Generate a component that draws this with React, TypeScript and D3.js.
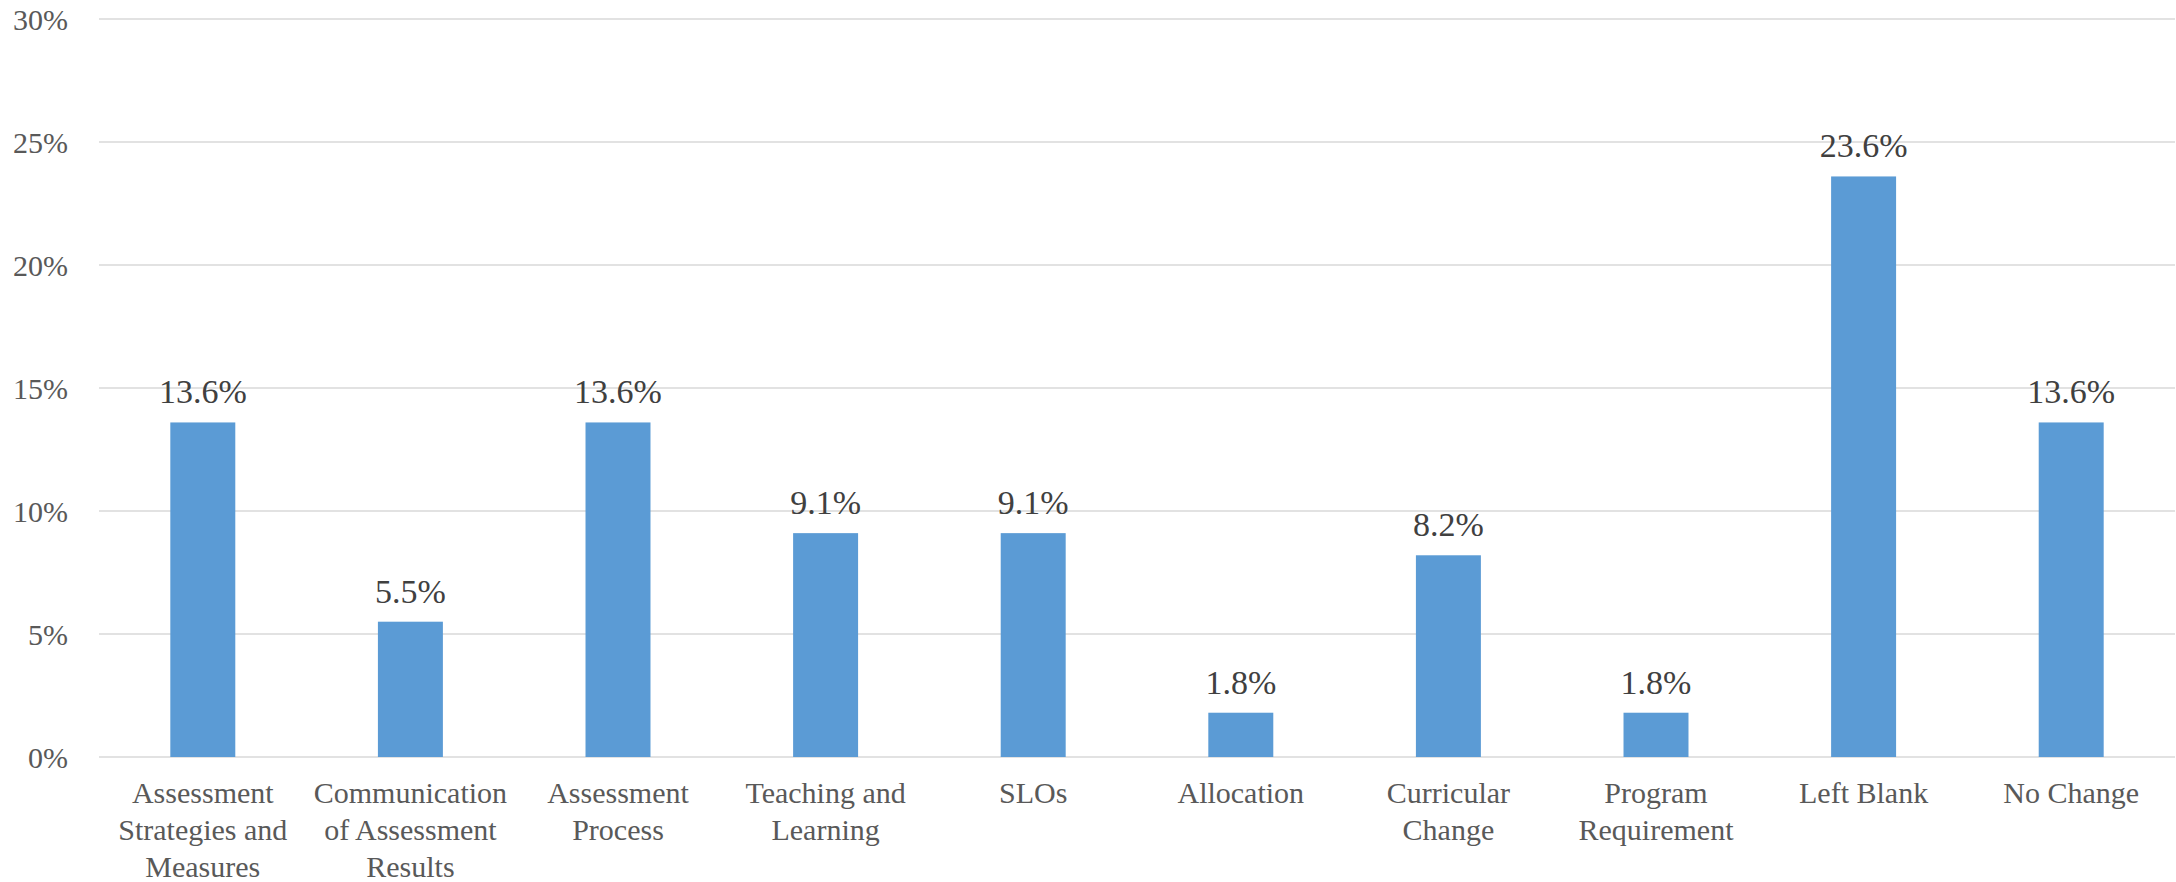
import React, { useEffect, useRef } from "react";
import * as d3 from "d3";

const categories = [
  "Assessment Strategies and Measures",
  "Communication of Assessment Results",
  "Assessment Process",
  "Teaching and Learning",
  "SLOs",
  "Allocation",
  "Curricular Change",
  "Program Requirement",
  "Left Blank",
  "No Change",
];
const values = [13.6, 5.5, 13.6, 9.1, 9.1, 1.8, 8.2, 1.8, 23.6, 13.6];
const yTicks = [0, 5, 10, 15, 20, 25, 30];

const FONT = "Liberation Serif, Times New Roman, DejaVu Serif, serif";

export default function App() {
  const ref = useRef<SVGSVGElement | null>(null);

  useEffect(() => {
    document.body.style.margin = "0";
    const width = 2176;
    const height = 882;
    const margin = { top: 19, right: 1, bottom: 125, left: 99 };

    const svg = d3.select(ref.current);
    svg.selectAll("*").remove();
    svg.attr("width", width).attr("height", height).style("font-family", FONT);

    const x = d3
      .scaleBand<string>()
      .domain(categories)
      .range([margin.left, width - margin.right])
      .paddingInner(0.687)
      .paddingOuter(0.3435);
    const y = d3.scaleLinear().domain([0, 30]).range([height - margin.bottom, margin.top]);

    // gridlines
    svg.append("g")
      .selectAll("line")
      .data(yTicks)
      .enter()
      .append("line")
      .attr("x1", margin.left)
      .attr("x2", width - margin.right)
      .attr("y1", d => y(d))
      .attr("y2", d => y(d))
      .attr("stroke", "#d9d9d9")
      .attr("stroke-width", 1.5);

    // y tick labels
    svg.append("g")
      .selectAll("text")
      .data(yTicks)
      .enter()
      .append("text")
      .attr("x", 68)
      .attr("y", d => y(d))
      .attr("dy", "0.35em")
      .attr("text-anchor", "end")
      .style("font-family", FONT)
      .style("font-size", "30px")
      .attr("fill", "#595959")
      .text(d => `${d}%`);

    // bars
    svg.append("g")
      .selectAll("rect")
      .data(values)
      .enter()
      .append("rect")
      .attr("x", (d, i) => x(categories[i]) as number)
      .attr("y", d => y(d))
      .attr("width", x.bandwidth())
      .attr("height", d => y(0) - y(d))
      .attr("fill", "#5b9bd5");

    // data labels
    svg.append("g")
      .selectAll("text")
      .data(values)
      .enter()
      .append("text")
      .attr("x", (d, i) => (x(categories[i]) as number) + x.bandwidth() / 2)
      .attr("y", d => y(d) - 19)
      .attr("text-anchor", "middle")
      .style("font-family", FONT)
      .style("font-size", "34px")
      .attr("fill", "#404040")
      .text(d => `${d.toFixed(1)}%`);

    // category labels, word-wrapped to the band step
    const maxW = x.step() - 4;
    const catG = svg.append("g");
    categories.forEach(cat => {
      const cx = (x(cat) as number) + x.bandwidth() / 2;
      const t = catG
        .append("text")
        .attr("text-anchor", "middle")
        .style("font-family", FONT)
        .style("font-size", "30px")
        .attr("fill", "#595959");
      const words = cat.split(" ");
      let line: string[] = [];
      let lineNo = 0;
      let ts = t.append("tspan").attr("x", cx).attr("y", y(0) + 46);
      words.forEach(w => {
        line.push(w);
        ts.text(line.join(" "));
        if ((ts.node() as SVGTSpanElement).getComputedTextLength() > maxW && line.length > 1) {
          line.pop();
          ts.text(line.join(" "));
          line = [w];
          lineNo++;
          ts = t.append("tspan").attr("x", cx).attr("y", y(0) + 46 + lineNo * 37).text(w);
        }
      });
    });
  }, []);

  return <svg ref={ref} style={{ display: "block" }} />;
}
